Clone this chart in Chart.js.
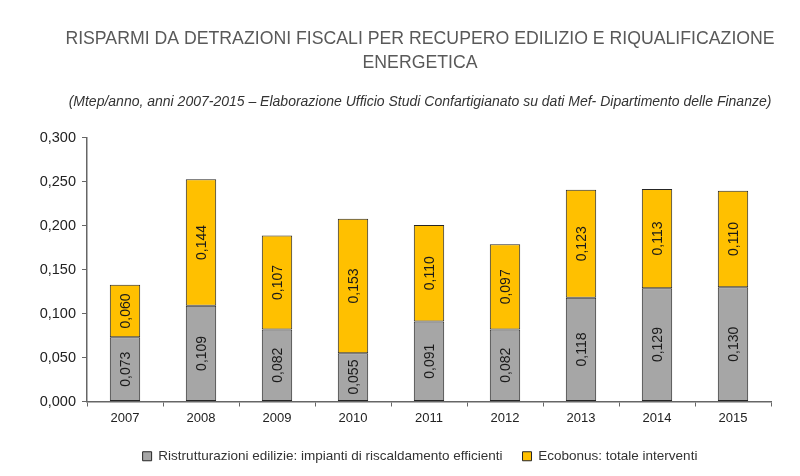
<!DOCTYPE html>
<html>
<head>
<meta charset="utf-8">
<script src="https://cdn.jsdelivr.net/npm/chart.js@4"></script>
<style>
  html, body { margin: 0; padding: 0; background: #fff; }
  #wrap { width: 800px; height: 476px; }
</style>
</head>
<body>
<div id="wrap"><canvas id="chart" width="800" height="476"></canvas></div>
<script>
var anni = ['2007', '2008', '2009', '2010', '2011', '2012', '2013', '2014', '2015'];
var ristrutturazioni = [0.073, 0.109, 0.082, 0.055, 0.091, 0.082, 0.118, 0.129, 0.130];
var ecobonus = [0.060, 0.144, 0.107, 0.153, 0.110, 0.097, 0.123, 0.113, 0.110];

var sans = '"Liberation Sans", Arial, sans-serif';

function fmt(v) {
  return v.toFixed(3).replace('.', ',');
}

// etichette ruotate dentro le barre
var barLabels = {
  id: 'barLabels',
  afterDatasetsDraw: function(chart) {
    var ctx = chart.ctx;
    ctx.save();
    ctx.font = '14px ' + sans;
    ctx.fillStyle = '#1a1a1a';
    ctx.textAlign = 'center';
    ctx.textBaseline = 'middle';
    chart.data.datasets.forEach(function(ds, i) {
      chart.getDatasetMeta(i).data.forEach(function(bar, j) {
        var mid = (bar.y + bar.base) / 2;
        ctx.save();
        ctx.translate(bar.x, mid);
        ctx.rotate(-Math.PI / 2);
        ctx.fillText(fmt(ds.data[j]), 0, 1);
        ctx.restore();
      });
    });
    ctx.restore();
  }
};

var ctx = document.getElementById('chart').getContext('2d');
var chart = new Chart(ctx, {
  type: 'bar',
  data: {
    labels: anni,
    datasets: [
      {
        label: 'Ristrutturazioni edilizie: impianti di riscaldamento efficienti',
        data: ristrutturazioni,
        backgroundColor: '#a6a6a6',
        borderColor: '#262626',
        borderWidth: 1,
        borderSkipped: false,
        categoryPercentage: 1,
        barPercentage: 0.4
      },
      {
        label: 'Ecobonus: totale interventi',
        data: ecobonus,
        backgroundColor: '#ffc000',
        borderColor: '#262626',
        borderWidth: 1,
        borderSkipped: false,
        categoryPercentage: 1,
        barPercentage: 0.4
      }
    ]
  },
  options: {
    responsive: false,
    animation: false,
    layout: { padding: { left: 40, right: 0, top: 0, bottom: 3 } },
    plugins: {
      title: {
        display: true,
        text: ['RISPARMI DA DETRAZIONI FISCALI PER RECUPERO EDILIZIO E RIQUALIFICAZIONE', 'ENERGETICA'],
        color: '#595959',
        font: { family: sans, size: 17.7, weight: 'normal', lineHeight: 1.36 },
        padding: { top: 27, bottom: 19 }
      },
      subtitle: {
        display: true,
        text: '(Mtep/anno, anni 2007-2015 \u2013 Elaborazione Ufficio Studi Confartigianato su dati Mef- Dipartimento delle Finanze)',
        color: '#333',
        font: { family: sans, size: 14, style: 'italic', lineHeight: 1.2 },
        padding: { top: 0, bottom: 27 }
      },
      legend: {
        position: 'bottom',
        labels: {
          color: '#333',
          font: { family: sans, size: 13.5 },
          boxWidth: 9,
          boxHeight: 9,
          padding: 20
        }
      },
      tooltip: { enabled: false }
    },
    scales: {
      x: {
        stacked: true,
        afterFit: function(s) { s.height = 28; },
        grid: { display: true, drawOnChartArea: false, offset: true, tickLength: 5, color: '#666' },
        border: { color: '#666', width: 1.5 },
        ticks: { color: '#222', font: { family: sans, size: 13 }, padding: 4 }
      },
      y: {
        stacked: true,
        min: 0,
        max: 0.3,
        afterFit: function(s) { s.width = 47; },
        grid: { display: true, drawOnChartArea: false, tickLength: 5, color: '#666' },
        border: { color: '#666', width: 1.5 },
        ticks: {
          stepSize: 0.05,
          color: '#222',
          font: { family: sans, size: 14.5 },
          padding: 6,
          callback: function(v) { return fmt(v); }
        }
      },
      // asse vuoto a destra, solo per il margine
      yDx: {
        position: 'right',
        afterFit: function(s) { s.width = 29; },
        grid: { display: false },
        border: { display: false },
        ticks: { display: false }
      }
    }
  },
  plugins: [barLabels]
});
</script>
</body>
</html>
